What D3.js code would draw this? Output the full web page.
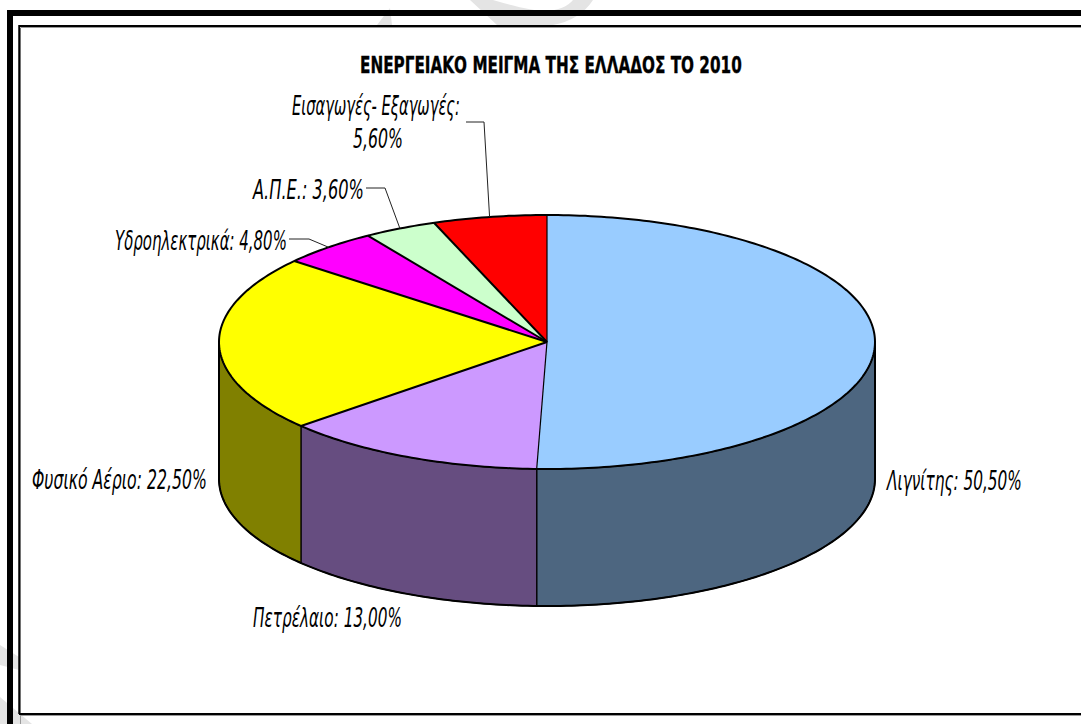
<!DOCTYPE html>
<html lang="el">
<head>
<meta charset="utf-8">
<title>Ενεργειακό μείγμα της Ελλάδος το 2010</title>
<script src="https://cdn.jsdelivr.net/npm/d3@7"></script>
<style>
  html, body { margin: 0; padding: 0; background: #fff; overflow: hidden; }
  svg { display: block; }
  text { font-family: "DejaVu Sans", sans-serif; fill: #000; }
</style>
</head>
<body>
<svg id="chart" width="1081" height="724"></svg>
<script>
// Energy mix shares, clockwise from twelve o'clock
const sources = ["Λιγνίτης", "Πετρέλαιο", "Φυσικό Αέριο", "Υδροηλεκτρικά", "Α.Π.Ε.", "Εισαγωγές- Εξαγωγές"];
const shares = [50.5, 13.0, 22.5, 4.8, 3.6, 5.6];
const topColors = ["#99ccff", "#cc99ff", "#ffff00", "#ff00ff", "#ccffcc", "#ff0000"];
const sideColors = ["#4d6680", "#664d80", "#808000", "#800080", "#668066", "#800000"];
const chartTitle = "ΕΝΕΡΓΕΙΑΚΟ ΜΕΙΓΜΑ ΤΗΣ ΕΛΛΑΔΟΣ ΤΟ 2010";

// Label boxes: left edge, width and baselines of each label
const labelBoxes = [
  { x: 887, w: 135, lines: [490] },
  { x: 253, w: 149, lines: [627] },
  { x: 32,  w: 175, lines: [489] },
  { x: 115, w: 172, lines: [250] },
  { x: 253, w: 111, lines: [199] },
  { x: 292, w: 168, lines: [115, 148], secondX: 353, secondW: 50 }
];
// Elbow of each leader line: start of the run and its bend
const leaderElbows = [
  null, null, null,
  { from: [289, 239], bend: [309, 239] },
  { from: [366, 188], bend: [385, 188] },
  { from: [466, 122], bend: [484, 122] }
];

const cx = 547, cy = 342, rx = 328, ry = 127, depth = 137;
const svg = d3.select("#chart");

// Faint backdrop shapes and the double frame
const backdrop = svg.append("g").attr("fill", "#e4e4e4");
[
  "M377,25 L390,8 L392,25 Z",
  "M470,0 L497,25 L553,25 Q580,20 593,0 L573,0 Q565,10 545,11 Q530,11 493,0 Z",
  "M0,645 L19,657 L19,670 L0,665 Z",
  "M0,697 L32,724 L0,724 Z"
].forEach(d => backdrop.append("path").attr("d", d));

svg.append("rect").attr("x", 19).attr("y", 26).attr("width", 1062).attr("height", 688).attr("fill", "#fff");
svg.append("path").attr("d", "M20.5,724 V28 M21,27.5 H1081 M21,715.5 H1081").attr("stroke", "#999").attr("fill", "none").attr("stroke-width", 1);
svg.append("path").attr("d", "M19.25,714 V26 H1081 M19,714 H1081").attr("stroke", "#000").attr("fill", "none").attr("stroke-width", 2);
svg.append("path").attr("d", "M1081,13 H10 V724").attr("stroke", "#000").attr("fill", "none").attr("stroke-width", 6);

// Pie layout in clockwise order from the top
const slices = d3.pie().sort(null).value(d => d)(shares);
const rim = a => [cx + rx * Math.sin(a), cy - ry * Math.cos(a)];
const line = d3.line();
const arcSamples = (a0, a1) => {
  const n = Math.max(2, Math.ceil(Math.abs(a1 - a0) * 60));
  return d3.range(n + 1).map(i => a0 + (a1 - a0) * i / n);
};

// Cylinder wall: only the front half of the rim is visible
const frontStart = Math.PI / 2, frontEnd = 3 * Math.PI / 2;
const wall = svg.append("g");
slices.forEach((s, i) => {
  const a0 = Math.max(s.startAngle, frontStart), a1 = Math.min(s.endAngle, frontEnd);
  if (a1 <= a0) return;
  const upper = arcSamples(a0, a1).map(rim);
  const lower = upper.map(([x, y]) => [x, y + depth]).reverse();
  wall.append("path")
    .attr("d", line(upper.concat(lower)) + "Z")
    .attr("fill", sideColors[i])
    .attr("stroke", "#000")
    .attr("stroke-width", 1.2)
    .attr("stroke-linejoin", "round");
});
// Heavier outline along the foot and the outer verticals of the wall
wall.append("path")
  .attr("d", line([[cx + rx, cy]].concat(arcSamples(frontStart, frontEnd).map(a => {
    const [x, y] = rim(a);
    return [x, y + depth];
  }), [[cx - rx, cy]])))
  .attr("fill", "none").attr("stroke", "#000").attr("stroke-width", 2);

// Top face, flattened from a circle to the tilted ellipse
const arc = d3.arc().innerRadius(0).outerRadius(rx);
const topFace = svg.append("g").attr("transform", `translate(${cx},${cy}) scale(1,${ry / rx})`);
topFace.selectAll("path").data(slices).join("path")
  .attr("d", arc)
  .attr("fill", (d, i) => topColors[i]);

// Rim and spokes are stroked apart so their weights stay even on the ellipse
svg.append("path")
  .attr("d", line(arcSamples(0, 2 * Math.PI).map(rim)) + "Z")
  .attr("fill", "none").attr("stroke", "#000").attr("stroke-width", 2);
slices.forEach((s, i) => {
  svg.append("path")
    .attr("d", line([[cx, cy], rim(s.startAngle)]))
    .attr("stroke", "#000")
    .attr("stroke-width", i < 2 ? 1.2 : 2);
});

// Text squeezed horizontally to a set width, keeping its full height
function fittedText(parent, str, x, y, width) {
  const t = parent.append("text").text(str);
  const natural = t.node().getComputedTextLength();
  t.attr("transform", `translate(${x},${y}) scale(${width / natural},1)`);
  return t;
}

// Title
const titleGroup = svg.append("g").attr("font-size", 23).attr("font-weight", "bold");
fittedText(titleGroup, chartTitle, 360, 72.5, 382).attr("stroke", "#000").attr("stroke-width", 0.4);

// Data labels: name and share with a decimal comma
const valueText = v => v.toFixed(2).replace(".", ",") + "%";
const labels = svg.append("g").attr("font-size", 26).attr("font-style", "italic");
slices.forEach((s, i) => {
  const box = labelBoxes[i];
  const name = sources[i] + ":";
  if (box.lines.length === 1) {
    fittedText(labels, `${name} ${valueText(shares[i])}`, box.x, box.lines[0], box.w);
  } else {
    fittedText(labels, name, box.x, box.lines[0], box.w);
    fittedText(labels, valueText(shares[i]), box.secondX, box.lines[1], box.secondW);
  }
  // Leader from the label to the middle of its slice on the rim
  const elbow = leaderElbows[i];
  if (elbow) {
    svg.append("path")
      .attr("d", line([elbow.from, elbow.bend, rim((s.startAngle + s.endAngle) / 2)]))
      .attr("fill", "none").attr("stroke", "#222").attr("stroke-width", 1);
  }
});
</script>
</body>
</html>
